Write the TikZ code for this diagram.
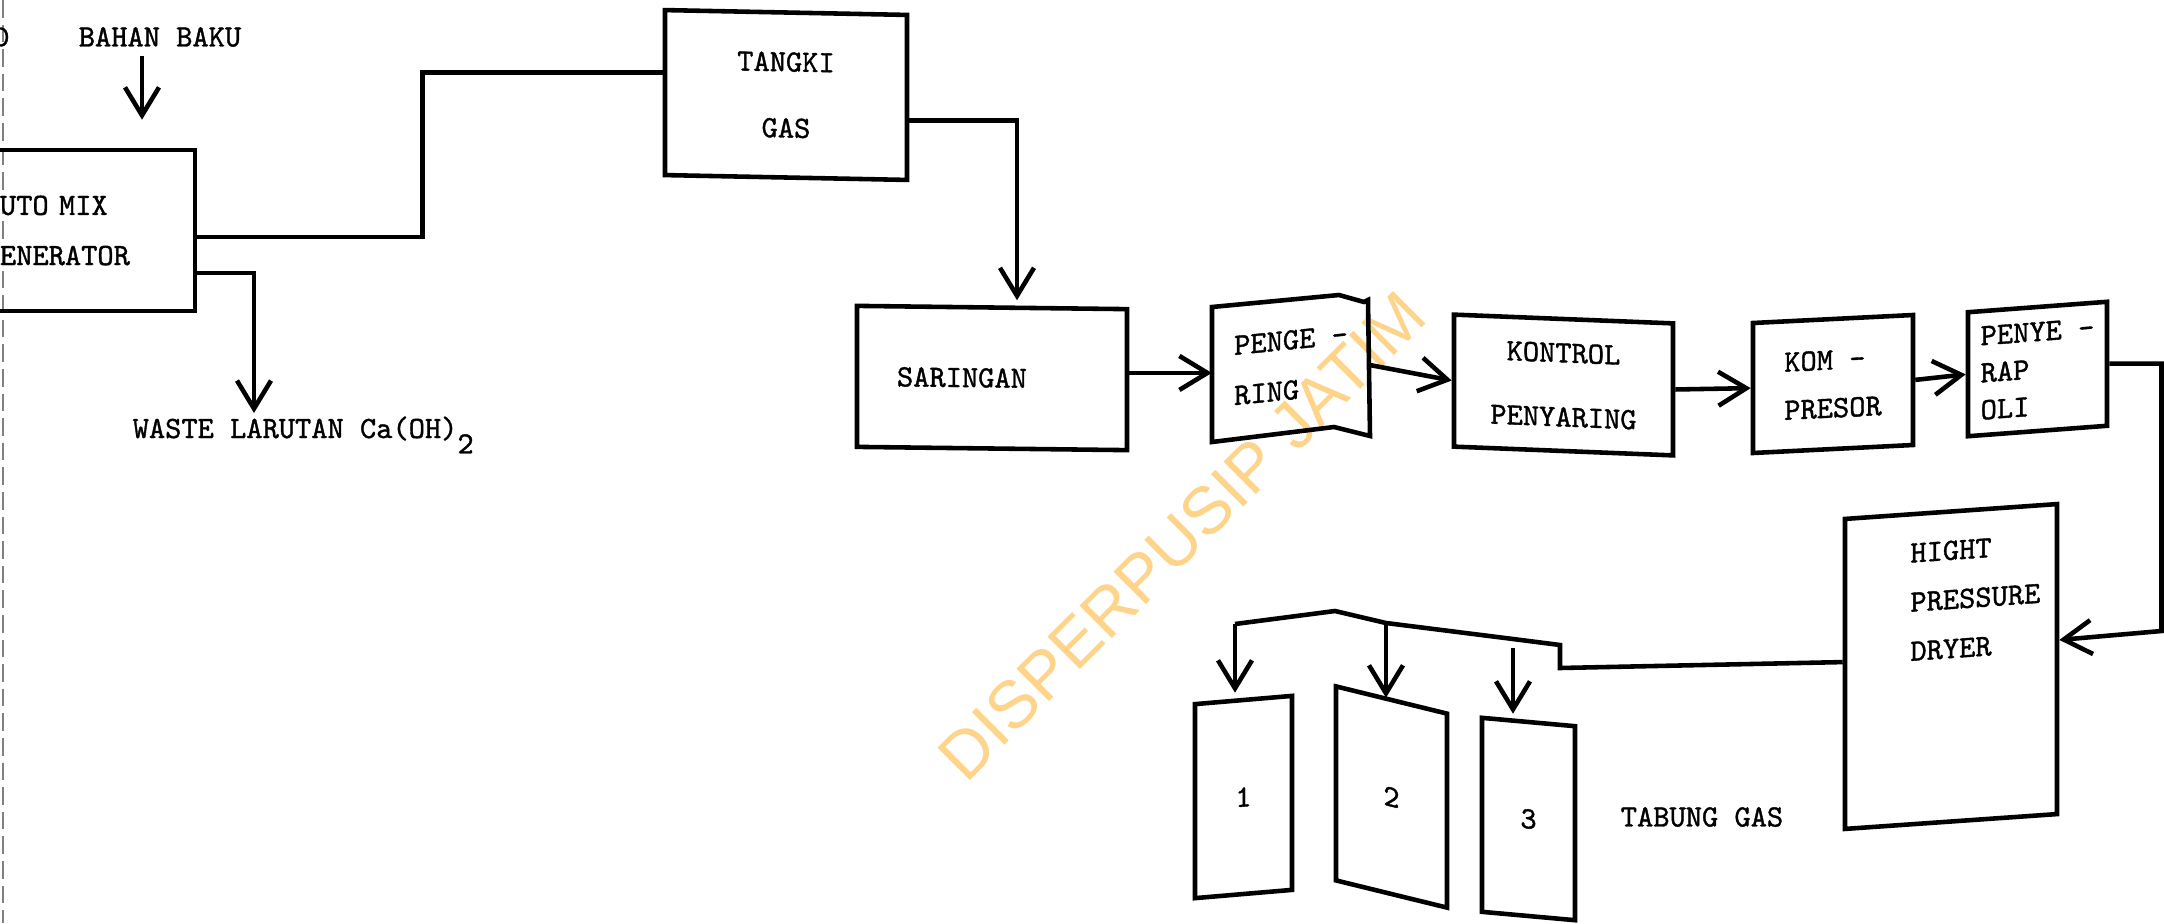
\documentclass[tikz,border=0pt]{standalone}
\usepackage{fontspec}
\newfontfamily\wmfont{Liberation Sans}
\newfontfamily\ketikfont[FakeBold=1.2]{lmmono10-regular.otf}
\usetikzlibrary{arrows.meta}
\newcommand{\ketik}{\ketikfont\fontsize{8.8pt}{10pt}\selectfont}
\definecolor{wmorange}{RGB}{253,212,138}
\tikzset{
  blok/.style={draw,line width=1.3pt,inner sep=0pt,font=\ketik,align=center},
  teks/.style={inner sep=0pt,font=\ketik},
  garis/.style={line width=1.3pt},
  panah/.style={garis,-{Straight Barb[length=2.8mm,width=3.4mm]}}
}

\begin{document}
\begin{tikzpicture}
\useasboundingbox (0,0) rectangle (21.64,-9.23);
\clip (0,0) rectangle (21.64,-9.23);
\node[font=\wmfont\fontsize{19pt}{19pt}\selectfont,text=wmorange,rotate=45] (cap) at (11.82,-5.36) {DISPERPUSIP JATIM};
\draw[gray,line width=0.3pt,dash pattern=on 5pt off 2pt] (0.03,0) -- (0.03,-9.23);

% generator dan tangki
\node[teks,anchor=east] (potong) at (0.10,-0.37) {D};
\node[teks] (bahan) at (1.60,-0.37) {BAHAN BAKU};
\node[blok,minimum width=2.35cm,minimum height=1.61cm,text width=1.55cm,inner xsep=4mm,align=left] (gen) at (0.775,-2.305) {UTO MIX\\[1.5mm]ENERATOR};
\node[teks,anchor=base west] (waste) at (1.32,-4.38) {WASTE LARUTAN Ca(OH)\raisebox{-0.5em}{2}};
\node[blok,yslant=-0.02,minimum width=2.42cm,minimum height=1.65cm] (tangki) at (7.86,-0.95) {TANGKI\\[3.1mm]GAS};

% jalur penyaringan
\node[blok,yslant=-0.012,minimum width=2.70cm,minimum height=1.41cm,text width=1.9cm,inner xsep=4mm,align=left] (sar) at (9.92,-3.78) {SARINGAN};
\node[teks,yslant=0.1,minimum width=1.57cm,minimum height=1.36cm,align=left] (peng) at (12.91,-3.65) {PENGE -\\[1.5mm]RING};
\draw[garis] (12.12,-3.07) -- (13.39,-2.95) -- (13.64,-3.02) -- (13.68,-3.00) -- (13.70,-4.36) -- (13.34,-4.27) -- (12.12,-4.42) -- cycle;
\node[blok,yslant=-0.04,minimum width=2.19cm,minimum height=1.32cm] (kontrol) at (15.635,-3.85) {KONTROL\\[2.9mm]PENYARING};
\node[blok,yslant=0.05,minimum width=1.60cm,minimum height=1.30cm,align=left] (kompresor) at (18.33,-3.84) {KOM -\\[1.3mm]PRESOR};
\node[blok,yslant=0.075,minimum width=1.39cm,minimum height=1.24cm,align=left] (penyerap) at (20.375,-3.69) {PENYE -\\[0.2mm]RAP\\[0.2mm]OLI};
\node[blok,yslant=0.07,minimum width=2.12cm,minimum height=3.10cm] (dryer) at (19.51,-6.665) {};
\node[teks,yslant=0.07,align=left,anchor=north west] (dryerteks) at ([xshift=6.7mm,yshift=-2.6mm]dryer.north west) {HIGHT\\[1.4mm]PRESSURE\\[1.4mm]DRYER};

% tabung gas
\node[blok,yslant=0.085,minimum width=0.97cm,minimum height=1.94cm] (tab1) at (12.435,-7.97) {1};
\node[blok,yslant=-0.245,minimum width=1.11cm,minimum height=1.94cm] (tab2) at (13.915,-7.97) {2};
\node[blok,yslant=-0.09,minimum width=0.93cm,minimum height=1.94cm] (tab3) at (15.285,-8.19) {3};
\node[teks] (tabung) at (17.02,-8.17) {TABUNG GAS};

\coordinate (bb) at ([xshift=-1.8mm]bahan.south);
\coordinate (buang) at (2.54,-4.13);
\coordinate (belok) at (21.615,-6.31);
\coordinate (m0) at (15.60,-6.68);
\coordinate (m1) at (15.60,-6.45);
\coordinate (m4) at (15.13,-6.39);
\coordinate (m2) at (13.86,-6.23);
\coordinate (puncak) at (13.35,-6.11);
\coordinate (m3) at (12.35,-6.24);

\draw[panah,shorten <=0.8mm,shorten >=2.8mm] (bb) -- (bb |- gen.north);
\draw[panah] ([yshift=-4.25mm]gen.east) -| (buang);
\draw[garis] ([yshift=-0.65mm]gen.east) -- ++(2.25,0) |- ([yshift=2.0mm]tangki.west);
\draw[panah,shorten >=0.5mm] ([yshift=-2.3mm]tangki.east) -| ([xshift=2.5mm]sar.north);
\draw[panah] (sar.east |- peng.west) -- (peng.west);
\draw[panah] ([yshift=-0.8mm]peng.east) -- (kontrol.west);
\draw[panah] (kontrol.east) -- (kompresor.west);
\draw[panah] (kompresor.east) -- (penyerap.west);
\draw[panah] (penyerap.east) -| (belok) -- ([yshift=1.9mm]dryer.east);
\draw[garis] ([yshift=1.2mm]dryer.west) -- (m0) -- (m1) -- (m4) -- (m2) -- (puncak) -- (m3);
\draw[panah,shorten >=0.5mm] (m3) -- (m3 |- tab1.north);
\draw[panah] (m2) -- (m2 |- tab2.north);
\draw[panah,shorten <=0.9mm,shorten >=0.6mm] (m4) -- (m4 |- tab3.north);
\end{tikzpicture}
\end{document}
